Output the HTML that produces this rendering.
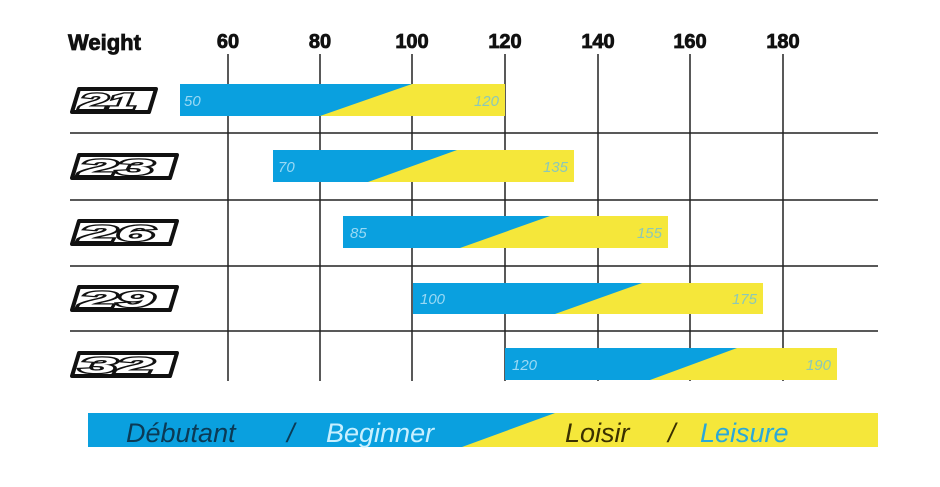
<!DOCTYPE html>
<html><head><style>
body{margin:0;background:#fff;}
svg text{font-family:"Liberation Sans",sans-serif;}
</style></head><body>
<svg width="940" height="482" viewBox="0 0 940 482" xmlns="http://www.w3.org/2000/svg">
<rect width="940" height="482" fill="#fff"/>
<g font-weight="bold" font-size="20" fill="#111" stroke="#111" stroke-width="0.8">
<text x="68" y="50" font-size="22">Weight</text>
<text x="228" y="48" text-anchor="middle">60</text>
<text x="320" y="48" text-anchor="middle">80</text>
<text x="412" y="48" text-anchor="middle">100</text>
<text x="505" y="48" text-anchor="middle">120</text>
<text x="598" y="48" text-anchor="middle">140</text>
<text x="690" y="48" text-anchor="middle">160</text>
<text x="783" y="48" text-anchor="middle">180</text>
</g>
<g stroke="#222" stroke-width="1.5">
<line x1="228" y1="54" x2="228" y2="381"/>
<line x1="320" y1="54" x2="320" y2="381"/>
<line x1="412" y1="54" x2="412" y2="381"/>
<line x1="505" y1="54" x2="505" y2="381"/>
<line x1="598" y1="54" x2="598" y2="381"/>
<line x1="690" y1="54" x2="690" y2="381"/>
<line x1="783" y1="54" x2="783" y2="381"/>
<line x1="70" y1="133" x2="878" y2="133"/>
<line x1="70" y1="200" x2="878" y2="200"/>
<line x1="70" y1="266" x2="878" y2="266"/>
<line x1="70" y1="331" x2="878" y2="331"/>
</g>
<g>
<rect x="180" y="84" width="325" height="32" fill="#f5e73a"/>
<polygon points="180,84 412,84 320,116 180,116" fill="#0aa0df"/>
<rect x="273" y="150" width="301" height="32" fill="#f5e73a"/>
<polygon points="273,150 457,150 368,182 273,182" fill="#0aa0df"/>
<rect x="343" y="216" width="325" height="32" fill="#f5e73a"/>
<polygon points="343,216 550,216 460,248 343,248" fill="#0aa0df"/>
<rect x="413" y="283" width="350" height="31" fill="#f5e73a"/>
<polygon points="413,283 642,283 555,314 413,314" fill="#0aa0df"/>
<rect x="505" y="348" width="332" height="32" fill="#f5e73a"/>
<polygon points="505,348 737,348 650,380 505,380" fill="#0aa0df"/>
</g>
<g font-size="15" font-style="italic" fill="#9ad9f4">
<text x="184" y="106">50</text>
<text x="278" y="172">70</text>
<text x="350" y="238">85</text>
<text x="420" y="304">100</text>
<text x="512" y="370">120</text>
</g>
<g font-size="15" font-style="italic" fill="#8cc8b8" text-anchor="end">
<text x="499" y="106">120</text>
<text x="568" y="172">135</text>
<text x="662" y="238">155</text>
<text x="757" y="304">175</text>
<text x="831" y="370">190</text>
</g>
<g stroke="#111" stroke-width="4" fill="#fff" stroke-linejoin="round">
<polygon points="79,89 156,89 149,112 72,112"/>
<polygon points="79,155 177,155 170,178 72,178"/>
<polygon points="79,221 177,221 170,244 72,244"/>
<polygon points="79,287 177,287 170,310 72,310"/>
<polygon points="79,353 177,353 170,376 72,376"/>
</g>
<g font-weight="bold" font-style="italic" font-size="22" fill="#fff" stroke="#111" stroke-width="2.5" paint-order="stroke">
<text x="0" y="0" transform="translate(80,109) scale(2.3,1)">21</text>
<text x="0" y="0" transform="translate(80,175) scale(3,1)">23</text>
<text x="0" y="0" transform="translate(80,241) scale(3,1)">26</text>
<text x="0" y="0" transform="translate(80,307) scale(3,1)">29</text>
<text x="0" y="0" transform="translate(80,373) scale(3,1)">32</text>
</g>
<rect x="88" y="413" width="790" height="34" fill="#f5e73a"/>
<polygon points="88,413 555,413 462,447 88,447" fill="#0aa0df"/>
<g font-size="27" font-style="italic">
<text x="126" y="442" fill="#0b3a55">Débutant</text>
<text x="287" y="442" fill="#0b3a55">/</text>
<text x="326" y="442" fill="#c8f0ff">Beginner</text>
<text x="565" y="442" fill="#3a3000">Loisir</text>
<text x="668" y="442" fill="#3a3000">/</text>
<text x="700" y="442" fill="#2aa8d8">Leisure</text>
</g>
</svg>
</body></html>
